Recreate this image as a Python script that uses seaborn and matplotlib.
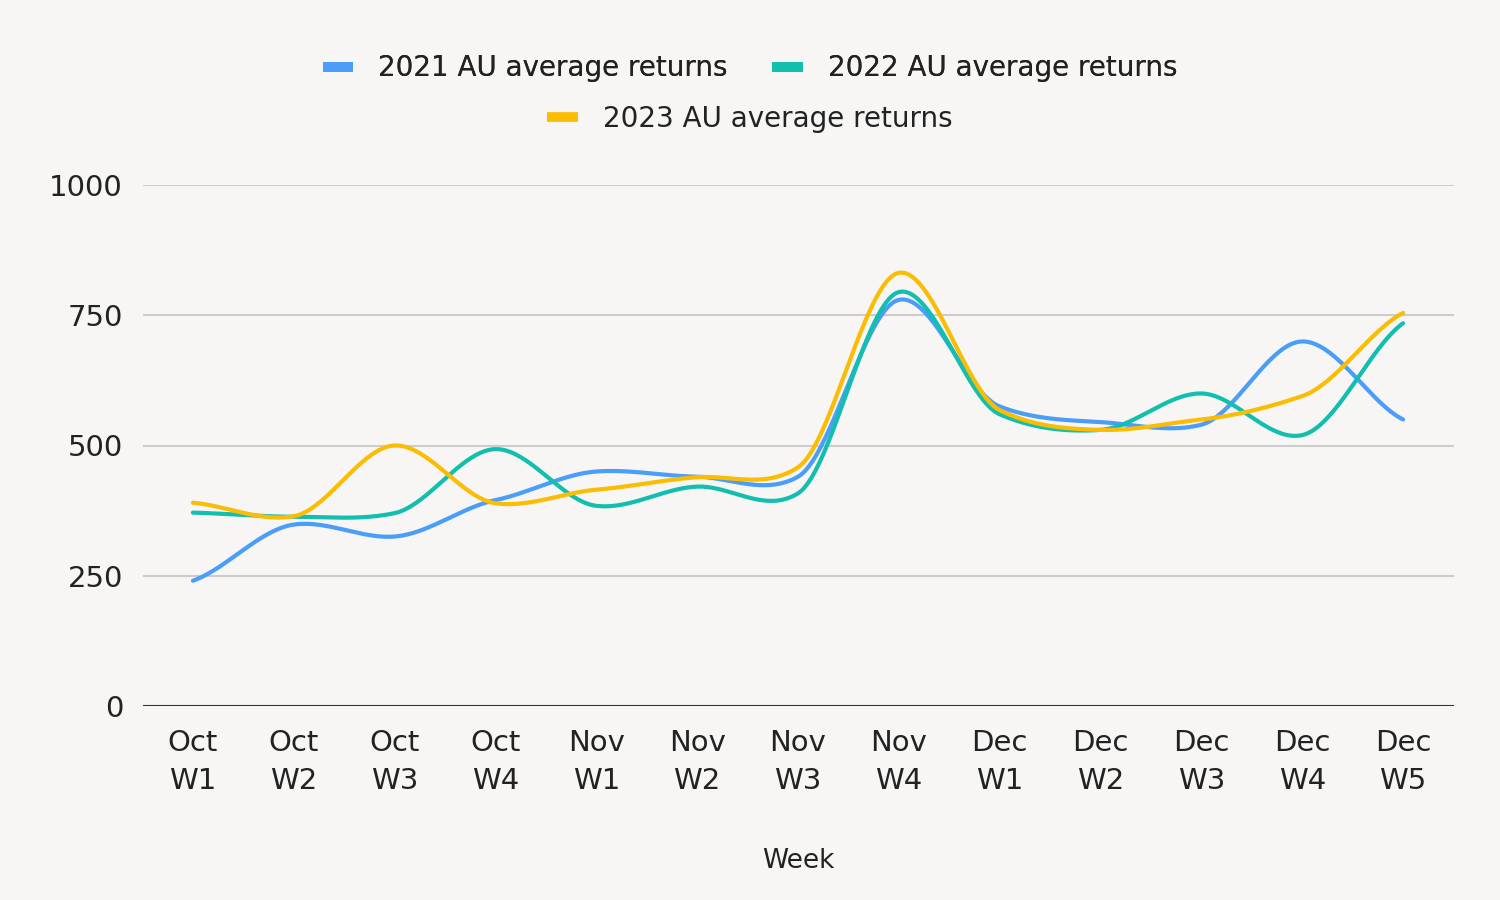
import numpy as np
import pandas as pd
import matplotlib
matplotlib.use('Agg')
import matplotlib.pyplot as plt
import seaborn as sns
from matplotlib.lines import Line2D

# data
weeks = ['Oct\nW1', 'Oct\nW2', 'Oct\nW3', 'Oct\nW4', 'Nov\nW1', 'Nov\nW2', 'Nov\nW3',
         'Nov\nW4', 'Dec\nW1', 'Dec\nW2', 'Dec\nW3', 'Dec\nW4', 'Dec\nW5']
returns_2021 = [240, 348, 325, 395, 450, 440, 440, 780, 575, 545, 540, 700, 550]
returns_2022 = [371, 363, 370, 493, 384, 421, 408, 795, 560, 530, 600, 520, 735]
returns_2023 = [390, 364, 500, 389, 415, 439, 458, 832, 568, 530, 550, 595, 755]
series_names = ['2021 AU average returns', '2022 AU average returns', '2023 AU average returns']
colors = ['#4a9df8', '#12bfae', '#fbbc04']
y_ticks = [0, 250, 500, 750, 1000]

bg = '#f7f6f4'


def smooth(vals, k=0.32, n=40):
    # cardinal spline through the points, like a "function" curve type
    p = np.asarray(vals, dtype=float)
    m = np.zeros_like(p)
    m[1:-1] = k * (p[2:] - p[:-2])
    m[0] = 2 * k * (p[1] - p[0])
    m[-1] = 2 * k * (p[-1] - p[-2])
    t = np.linspace(0, 1, n, endpoint=False)
    h00 = 2 * t ** 3 - 3 * t ** 2 + 1
    h10 = t ** 3 - 2 * t ** 2 + t
    h01 = -2 * t ** 3 + 3 * t ** 2
    h11 = t ** 3 - t ** 2
    xs, ys = [], []
    for i in range(len(p) - 1):
        xs.extend(i + t)
        ys.extend(h00 * p[i] + h10 * m[i] + h01 * p[i + 1] + h11 * m[i + 1])
    xs.append(len(p) - 1)
    ys.append(p[-1])
    return np.array(xs), np.array(ys)


frames = []
for name, vals in zip(series_names, [returns_2021, returns_2022, returns_2023]):
    sx, sy = smooth(vals)
    frames.append(pd.DataFrame({'x': sx, 'y': sy, 'series': name}))
df = pd.concat(frames, ignore_index=True)

sns.set_theme(style='white')
plt.rcParams['font.family'] = ['DejaVu Sans']

fig = plt.figure(figsize=(15, 9), dpi=100, facecolor=bg)
ax = fig.add_axes([0.095, 0.216, 0.874, 0.578])
ax.set_facecolor(bg)

for y in y_ticks[1:]:
    ax.axhline(y, color='#cccccc', lw=1.5, zorder=0)
ax.axhline(0, color='#333333', lw=1.5, zorder=1)

sns.lineplot(data=df, x='x', y='y', hue='series', palette=colors, linewidth=3,
             estimator=None, sort=False, legend=False, ax=ax, zorder=3)

ax.set_xlim(-0.5, len(weeks) - 0.5)
ax.set_ylim(0, 1000)
ax.set_xticks(range(len(weeks)))
ax.set_xticklabels(weeks, fontsize=21, color='#222222', linespacing=1.45)
ax.set_yticks(y_ticks)
ax.set_yticklabels([str(v) for v in y_ticks], fontsize=21, color='#222222')
ax.tick_params(axis='x', length=0, pad=17)
ax.tick_params(axis='y', length=0, pad=14)
ax.set_xlabel('Week', fontsize=19, color='#222222', labelpad=38)
ax.set_ylabel('')
for s in ax.spines.values():
    s.set_visible(False)

handles = [Line2D([0], [0], color=c, lw=7, solid_capstyle='butt') for c in colors]
leg1 = fig.legend(handles[:2], series_names[:2], loc='center', bbox_to_anchor=(0.5, 0.924),
                  ncol=2, frameon=False, fontsize=20, handlelength=1.1, handletextpad=0.9,
                  columnspacing=1.6, labelcolor='#222222')
leg2 = fig.legend(handles[2:], series_names[2:], loc='center', bbox_to_anchor=(0.5, 0.868),
                  ncol=1, frameon=False, fontsize=20, handlelength=1.1, handletextpad=0.9,
                  labelcolor='#222222')
fig.add_artist(leg1)

fig.savefig('out.png', dpi=100, facecolor=bg)
